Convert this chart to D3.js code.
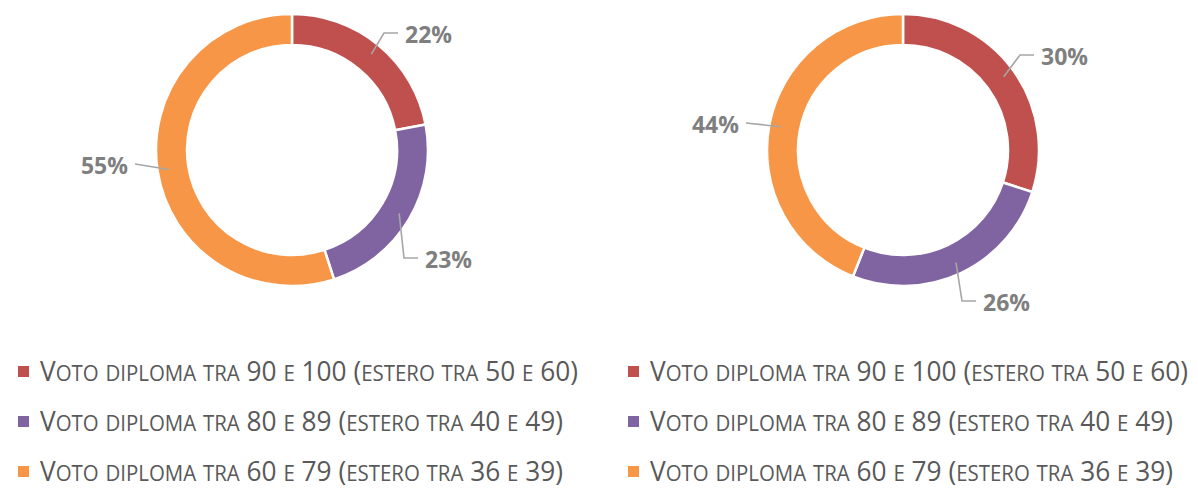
<!DOCTYPE html>
<html>
<head>
<meta charset="utf-8">
<script src="https://cdn.jsdelivr.net/npm/d3@7"></script>
<style>
  html, body { margin: 0; padding: 0; background: #fff; }
  svg { display: block; }
</style>
</head>
<body>
<svg id="chart" width="1198" height="491"></svg>
<script>
// ---- data ----
const categories = [
  "Voto diploma tra 90 e 100 (estero tra 50 e 60)",
  "Voto diploma tra 80 e 89 (estero tra 40 e 49)",
  "Voto diploma tra 60 e 79 (estero tra 36 e 39)"
];
const seriesLeft = [22, 23, 55];
const seriesRight = [30, 26, 44];
const colors = ["#C0504D", "#8064A2", "#F79646"];

// ---- layout (not data) ----
const W = 1198, H = 491;
const outerR = 136, innerR = 105;
const charts = [
  { values: seriesLeft, cx: 292, cy: 150,
    anchors: [[92, -117, 1], [112, 108, 1], [-157, 14, -1]] },
  { values: seriesRight, cx: 903, cy: 150,
    anchors: [[117, -95, 1], [59, 151, 1], [-157, -27, -1]] }
];
const legendCols = [18, 628];
const legendRows = [371, 421, 471];
const legendTextLen = [538, 523, 523];

const svg = d3.select("#chart");

const pie = d3.pie().sort(null).value(d => d);
const arc = d3.arc().innerRadius(innerR).outerRadius(outerR);
const midR = (innerR + outerR) / 2 + 4;

charts.forEach(c => {
  const g = svg.append("g").attr("transform", `translate(${c.cx},${c.cy})`);
  const arcs = pie(c.values);
  g.selectAll("path.slice").data(arcs).join("path")
    .attr("class", "slice")
    .attr("d", arc)
    .attr("fill", (d, i) => colors[i])
    .attr("stroke", "#fff")
    .attr("stroke-width", 2.5);

  arcs.forEach((d, i) => {
    const a = (d.startAngle + d.endAngle) / 2;
    const px = Math.sin(a) * midR, py = -Math.cos(a) * midR;
    const [ax, ay, side] = c.anchors[i];
    let pts;
    if (Math.abs(ay - py) > 12) {
      pts = [[px, py], [ax, ay], [ax + side * 14, ay]];
    } else {
      pts = [[px, py], [ax, ay]];
    }
    g.append("path")
      .attr("d", d3.line()(pts))
      .attr("fill", "none")
      .attr("stroke", "#A6A6A6")
      .attr("stroke-width", 1.6);
    const last = pts[pts.length - 1];
    g.append("text")
      .attr("x", last[0] + side * 7)
      .attr("y", last[1] + 4)
      .attr("text-anchor", side > 0 ? "start" : "end")
      .attr("dominant-baseline", "middle")
      .attr("font-family", "'Open Sans', sans-serif")
      .attr("font-weight", "bold")
      .attr("font-size", 23)
      .attr("fill", "#7F7F7F")
      .text(d.data + "%");
  });
});

// ---- legend with manual small caps ----
function runs(str) {
  const out = [];
  for (const ch of str) {
    const small = ch !== ch.toUpperCase();
    const last = out[out.length - 1];
    if (last && last.small === small) last.t += ch.toUpperCase();
    else out.push({ small, t: ch.toUpperCase() });
  }
  return out;
}

legendCols.forEach(lx => {
  categories.forEach((cat, i) => {
    const y = legendRows[i];
    svg.append("rect")
      .attr("x", lx).attr("y", y - 5)
      .attr("width", 11).attr("height", 11)
      .attr("fill", colors[i]);
    const t = svg.append("text")
      .attr("x", lx + 22)
      .attr("y", y + 10)
      .attr("font-family", "'Open Sans', sans-serif")
      .attr("fill", "#595959")
      .attr("textLength", legendTextLen[i])
      .attr("lengthAdjust", "spacingAndGlyphs");
    runs(cat).forEach(r => {
      t.append("tspan")
        .attr("font-size", r.small ? 21 : 27)
        .text(r.t);
    });
  });
});
</script>
</body>
</html>
